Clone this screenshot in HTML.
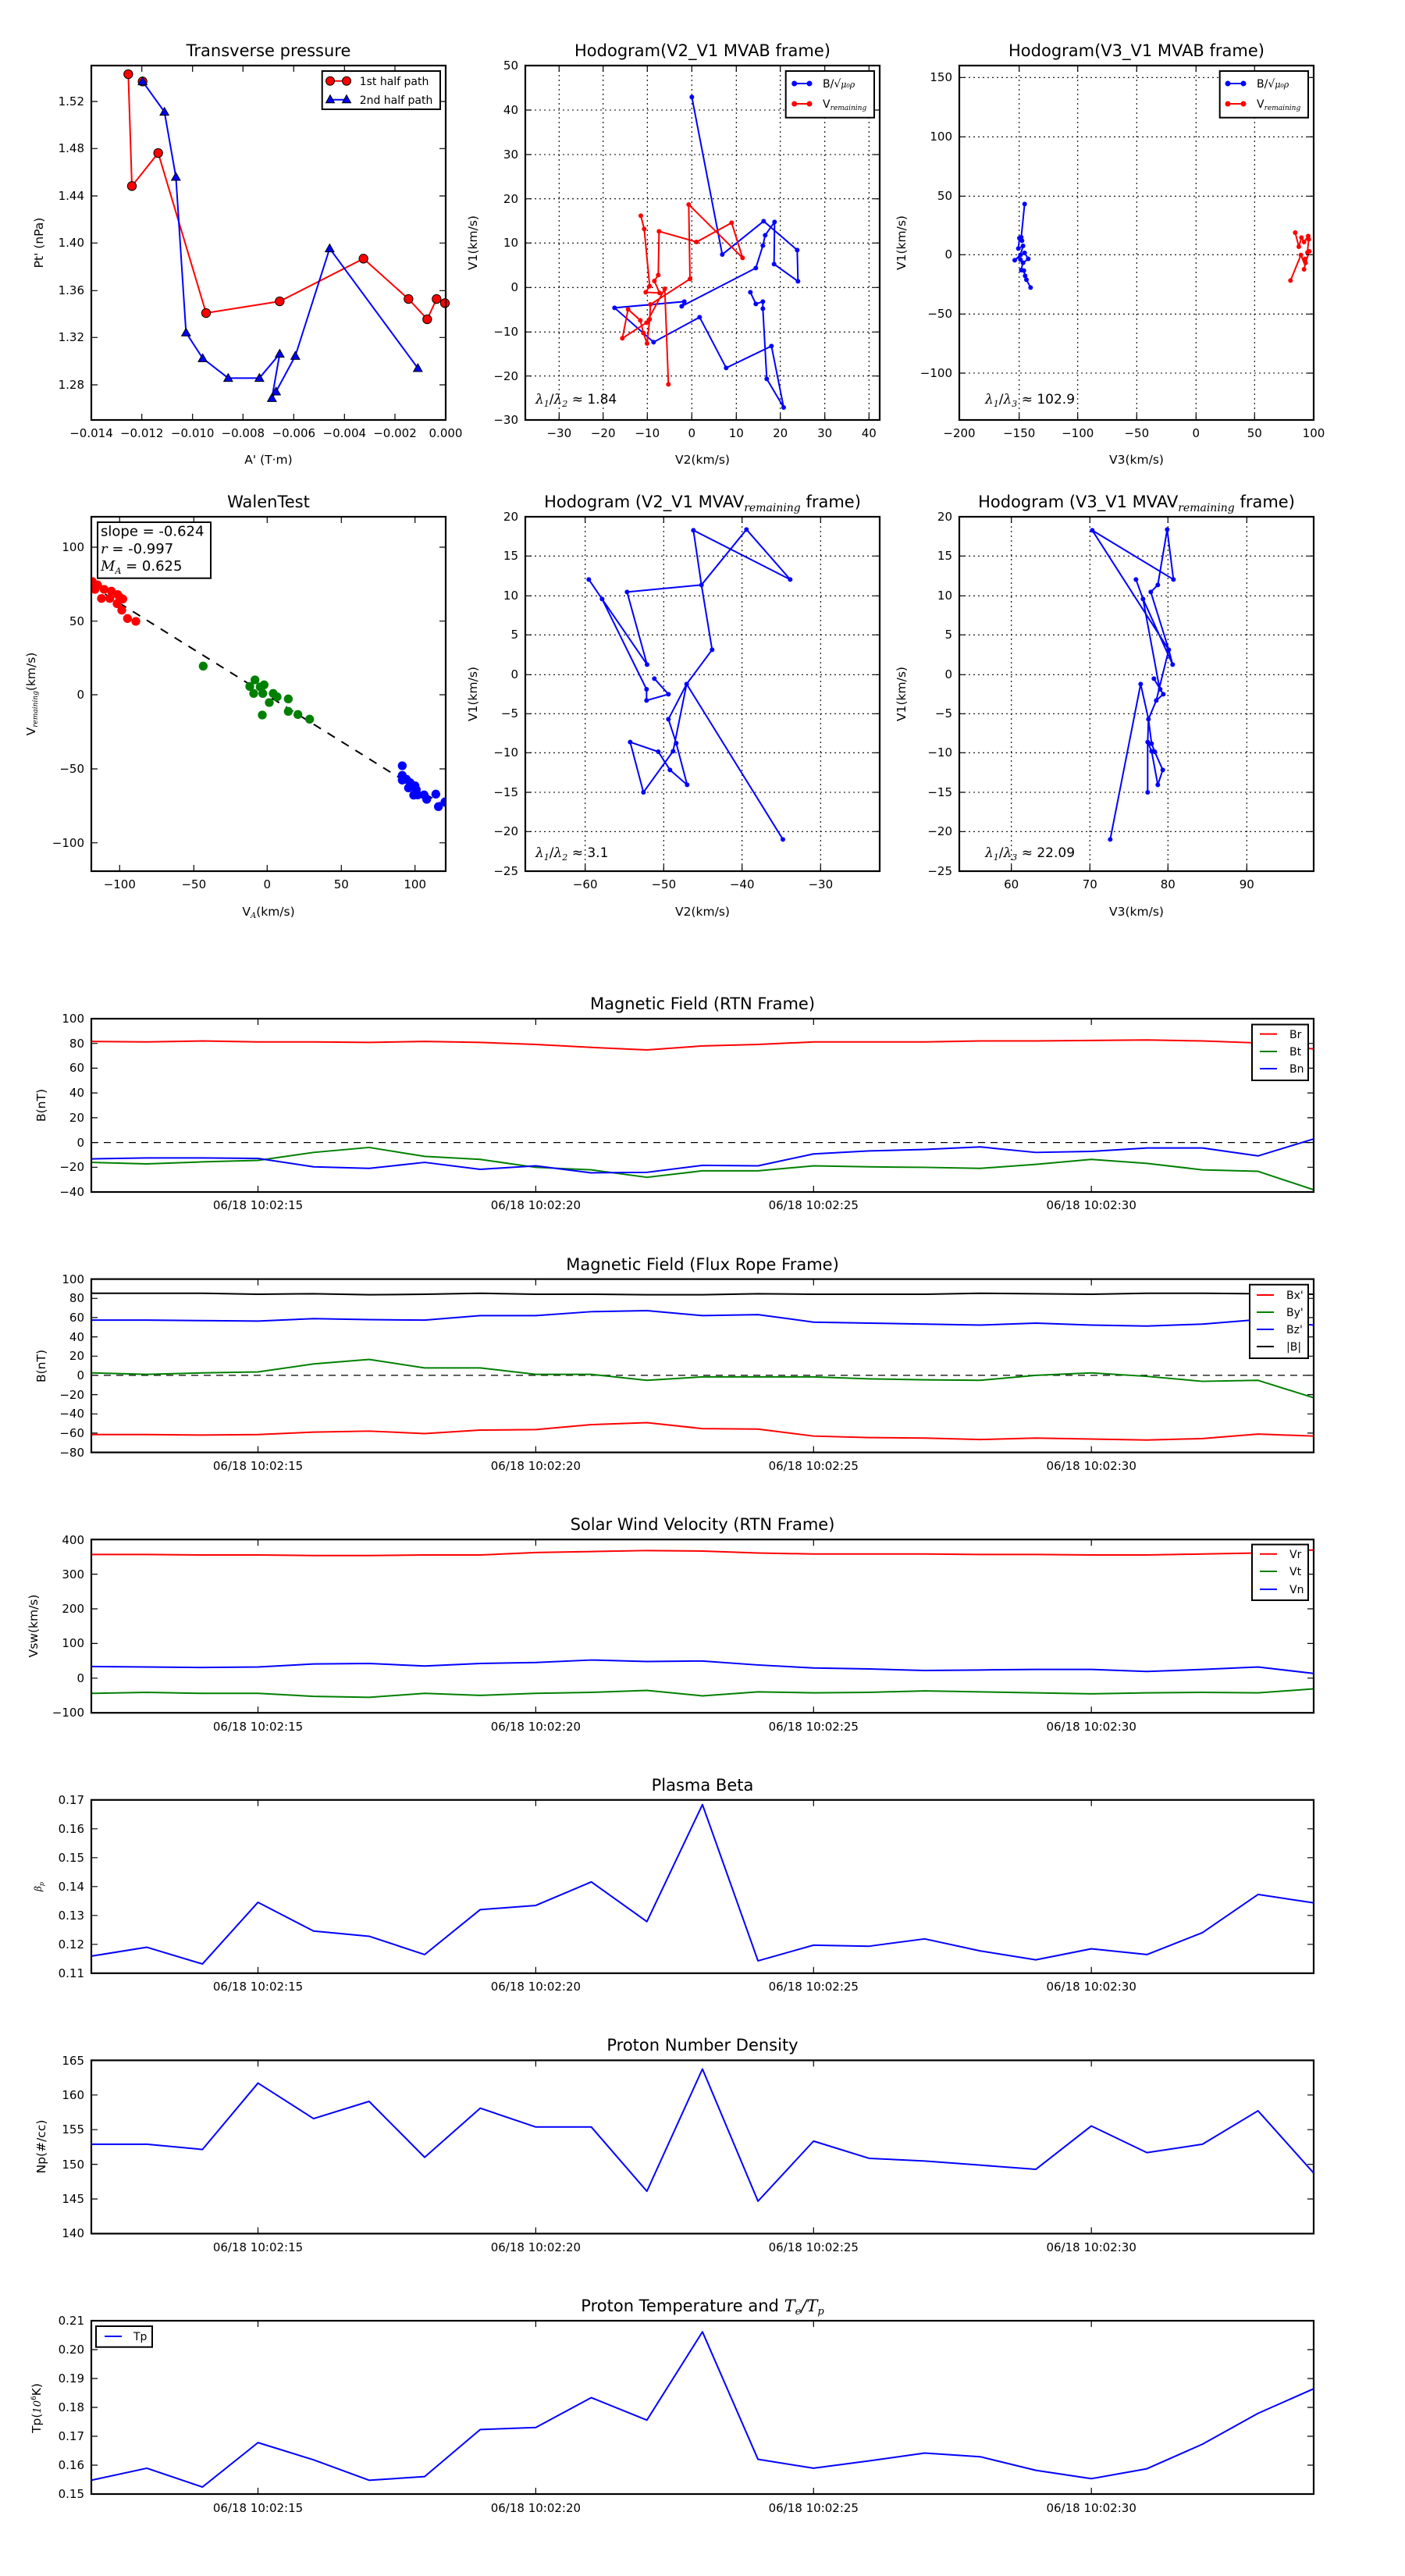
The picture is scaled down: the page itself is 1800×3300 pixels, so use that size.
<!DOCTYPE html>
<html><head><meta charset="utf-8"><style>
html,body{margin:0;padding:0;background:#fff;}
svg{display:block;}
text{font-family:"DejaVu Sans","Liberation Sans",sans-serif;fill:#000;}
.t{font-size:21px;text-anchor:middle;}
.tk{font-size:15px;}
.l{font-size:15.5px;text-anchor:middle;}
.lg{font-size:14px;}
.fr{fill:none;stroke:#000;stroke-width:2.2;}
.tick{fill:none;stroke:#000;stroke-width:1.2;}
.grid{stroke:#000;stroke-width:1.1;stroke-dasharray:2,4;}
.ts{fill:none;stroke-width:2;vector-effect:non-scaling-stroke;stroke-linejoin:round;}
.m{font-family:"DejaVu Serif","Liberation Serif",serif;font-style:italic;}
</style></head><body>
<svg width="1800" height="3300" viewBox="0 0 1800 3300" xmlns="http://www.w3.org/2000/svg">
<rect width="1800" height="3300" fill="#fff"/>

<!-- ============ Panel 1: Transverse pressure ============ -->
<text class="t" x="344" y="72">Transverse pressure</text>
<g transform="translate(100,60) scale(0.33333)">
<polyline points="193,105 207,535 308,408 492,1023 775,978 1097,814 1270,969 1342,1047 1378,969 1410,985" fill="none" stroke="#f00" stroke-width="6"/>
<polyline points="248,133 332,250 376,500 415,1098 479,1197 577,1273 697,1273 775,1180 745,1350 761,1325 835,1188 967,775 1306,1235" fill="none" stroke="#00f" stroke-width="6"/>
<g fill="#f00" stroke="#000" stroke-width="3">
<circle cx="193" cy="105" r="17"/><circle cx="207" cy="535" r="17"/><circle cx="308" cy="408" r="17"/><circle cx="492" cy="1023" r="17"/><circle cx="775" cy="978" r="17"/><circle cx="1097" cy="814" r="17"/><circle cx="1270" cy="969" r="17"/><circle cx="1342" cy="1047" r="17"/><circle cx="1378" cy="969" r="17"/><circle cx="1410" cy="985" r="17"/><circle cx="248" cy="133" r="17"/>
</g>
<g fill="#00f" stroke="#000" stroke-width="3">
<path d="M248,116 l17,30 h-34z M332,233 l17,30 h-34z M376,483 l17,30 h-34z M415,1081 l17,30 h-34z M479,1180 l17,30 h-34z M577,1256 l17,30 h-34z M697,1256 l17,30 h-34z M775,1163 l17,30 h-34z M745,1333 l17,30 h-34z M761,1308 l17,30 h-34z M835,1171 l17,30 h-34z M967,758 l17,30 h-34z M1306,1218 l17,30 h-34z"/>
</g>
</g>
<rect class="fr" x="117" y="84" width="454" height="454"/>
<path class="tick" d="M116.7,538v-8M116.7,84v8M181.7,538v-8M181.7,84v8M246.7,538v-8M246.7,84v8M311.3,538v-8M311.3,84v8M376.3,538v-8M376.3,84v8M441.3,538v-8M441.3,84v8M506,538v-8M506,84v8M117,130h8M571,130h-8M117,190.3h8M571,190.3h-8M117,251h8M571,251h-8M117,311.3h8M571,311.3h-8M117,372.3h8M571,372.3h-8M117,432.3h8M571,432.3h-8M117,493h8M571,493h-8"/>
<g class="tk" text-anchor="middle">
<text x="117" y="560">−0.014</text><text x="181.7" y="560">−0.012</text><text x="246.7" y="560">−0.010</text><text x="311.3" y="560">−0.008</text><text x="376.3" y="560">−0.006</text><text x="441.3" y="560">−0.004</text><text x="506" y="560">−0.002</text><text x="571" y="560">0.000</text>
</g>
<g class="tk" text-anchor="end">
<text x="108" y="135">1.52</text><text x="108" y="195">1.48</text><text x="108" y="256">1.44</text><text x="108" y="316">1.40</text><text x="108" y="377">1.36</text><text x="108" y="437">1.32</text><text x="108" y="498">1.28</text>
</g>
<text class="l" x="344" y="594">A' (T·m)</text>
<text class="l" transform="translate(55,311) rotate(-90)">Pt' (nPa)</text>
<rect x="412.7" y="91" width="151.3" height="49" fill="#fff" stroke="#000" stroke-width="2"/>
<line x1="423" y1="103.7" x2="444" y2="103.7" stroke="#f00" stroke-width="2"/>
<circle cx="423" cy="103.7" r="5.5" fill="#f00" stroke="#000"/><circle cx="444" cy="103.7" r="5.5" fill="#f00" stroke="#000"/>
<line x1="423" y1="127.7" x2="444" y2="127.7" stroke="#00f" stroke-width="2"/>
<path d="M423,121.7l5.5,10h-11zM444,121.7l5.5,10h-11z" fill="#00f" stroke="#000"/>
<text class="lg" x="460.7" y="109">1st half path</text>
<text class="lg" x="460.7" y="133">2nd half path</text>

<!-- ============ Panel 2: Hodogram V2_V1 MVAB ============ -->
<text class="t" x="900" y="72">Hodogram(V2_V1 MVAB frame)</text>
<g class="grid">
<path d="M716.3,84V538M772.7,84V538M829.3,84V538M886.3,84V538M943.3,84V538M999.7,84V538M1056.7,84V538M1113.3,84V538M673,141H1127M673,198H1127M673,254.7H1127M673,311.3H1127M673,368.3H1127M673,425.3H1127M673,481.7H1127"/>
</g>
<g transform="translate(625,60) scale(0.33333)">
<polyline points="1009,943 1030,988 1057,979 1057,1006 1072,1276 1137,1386 1090,1150 916,1234 814,1039 637,1135 487,1003 755,979 745,997 1030,850 1057,764 1066,724 1102,673 1100,835 1192,901 1189,781 1060,670 901,798 784,193" fill="none" stroke="#00f" stroke-width="6"/>
<g fill="#00f"><circle cx="1009" cy="943" r="9"/><circle cx="1030" cy="988" r="9"/><circle cx="1057" cy="979" r="9"/><circle cx="1057" cy="1006" r="9"/><circle cx="1072" cy="1276" r="9"/><circle cx="1137" cy="1386" r="9"/><circle cx="1090" cy="1150" r="9"/><circle cx="916" cy="1234" r="9"/><circle cx="814" cy="1039" r="9"/><circle cx="637" cy="1135" r="9"/><circle cx="487" cy="1003" r="9"/><circle cx="755" cy="979" r="9"/><circle cx="745" cy="997" r="9"/><circle cx="1030" cy="850" r="9"/><circle cx="1057" cy="764" r="9"/><circle cx="1066" cy="724" r="9"/><circle cx="1102" cy="673" r="9"/><circle cx="1100" cy="835" r="9"/><circle cx="1192" cy="901" r="9"/><circle cx="1189" cy="781" r="9"/><circle cx="1060" cy="670" r="9"/><circle cx="901" cy="798" r="9"/><circle cx="784" cy="193" r="9"/></g>
<polyline points="588,649 601,700 622,920 607,943 660,946 640,900 655,877 658,709 802,750 937,676 979,811 772,606 777,892 625,990 622,1047 612,1140 598,1100 586,1051 539,1009 517,1120 610,1060 680,930 694,1297" fill="none" stroke="#f00" stroke-width="6"/>
<g fill="#f00"><circle cx="588" cy="649" r="9"/><circle cx="601" cy="700" r="9"/><circle cx="622" cy="920" r="9"/><circle cx="607" cy="943" r="9"/><circle cx="660" cy="946" r="9"/><circle cx="640" cy="900" r="9"/><circle cx="655" cy="877" r="9"/><circle cx="658" cy="709" r="9"/><circle cx="802" cy="750" r="9"/><circle cx="937" cy="676" r="9"/><circle cx="979" cy="811" r="9"/><circle cx="772" cy="606" r="9"/><circle cx="777" cy="892" r="9"/><circle cx="625" cy="990" r="9"/><circle cx="622" cy="1047" r="9"/><circle cx="612" cy="1140" r="9"/><circle cx="598" cy="1100" r="9"/><circle cx="586" cy="1051" r="9"/><circle cx="539" cy="1009" r="9"/><circle cx="517" cy="1120" r="9"/><circle cx="610" cy="1060" r="9"/><circle cx="680" cy="930" r="9"/><circle cx="694" cy="1297" r="9"/></g>
</g>
<rect class="fr" x="673" y="84" width="454" height="454"/>
<path class="tick" d="M716.3,538v-8M716.3,84v8M772.7,538v-8M772.7,84v8M829.3,538v-8M829.3,84v8M886.3,538v-8M886.3,84v8M943.3,538v-8M943.3,84v8M999.7,538v-8M999.7,84v8M1056.7,538v-8M1056.7,84v8M1113.3,538v-8M1113.3,84v8M673,141h8M1127,141h-8M673,198h8M1127,198h-8M673,254.7h8M1127,254.7h-8M673,311.3h8M1127,311.3h-8M673,368.3h8M1127,368.3h-8M673,425.3h8M1127,425.3h-8M673,481.7h8M1127,481.7h-8"/>
<g class="tk" text-anchor="middle">
<text x="716.3" y="560">−30</text><text x="772.7" y="560">−20</text><text x="829.3" y="560">−10</text><text x="886.3" y="560">0</text><text x="943.3" y="560">10</text><text x="999.7" y="560">20</text><text x="1056.7" y="560">30</text><text x="1113.3" y="560">40</text>
</g>
<g class="tk" text-anchor="end">
<text x="664" y="89">50</text><text x="664" y="146">40</text><text x="664" y="203">30</text><text x="664" y="260">20</text><text x="664" y="316">10</text><text x="664" y="373">0</text><text x="664" y="430">−10</text><text x="664" y="487">−20</text><text x="664" y="543">−30</text>
</g>
<text class="l" x="900" y="594">V2(km/s)</text>
<text class="l" transform="translate(611,311) rotate(-90)">V1(km/s)</text>
<text x="686" y="517" style="font-size:17px"><tspan class="m">λ</tspan><tspan class="m" font-size="11" dy="4">1</tspan><tspan dy="-4">/</tspan><tspan class="m">λ</tspan><tspan class="m" font-size="11" dy="4">2</tspan><tspan dy="-4"> ≈ 1.84</tspan></text>
<rect x="1006.7" y="91" width="113.3" height="59.7" fill="#fff" stroke="#000" stroke-width="2"/>
<line x1="1017.7" y1="107" x2="1037" y2="107" stroke="#00f" stroke-width="2"/><circle cx="1017.7" cy="107" r="3.5" fill="#00f"/><circle cx="1037" cy="107" r="3.5" fill="#00f"/>
<line x1="1017.7" y1="133" x2="1037" y2="133" stroke="#f00" stroke-width="2"/><circle cx="1017.7" cy="133" r="3.5" fill="#f00"/><circle cx="1037" cy="133" r="3.5" fill="#f00"/>
<text class="lg" x="1054" y="112">B/√<tspan class="m" font-size="11">μ₀ρ</tspan></text>
<text class="lg" x="1054" y="138">V<tspan class="m" font-size="9" dy="3">remaining</tspan></text>

<!-- ============ Panel 3: Hodogram V3_V1 MVAB ============ -->
<text class="t" x="1456" y="72">Hodogram(V3_V1 MVAB frame)</text>
<g class="grid">
<path d="M1305.7,84V538M1380.7,84V538M1456.3,84V538M1532.3,84V538M1607.3,84V538M1229,99.3H1683M1229,175.3H1683M1229,251.3H1683M1229,326.3H1683M1229,402.3H1683M1229,478H1683"/>
</g>
<g transform="translate(1220,60) scale(0.33333)">
<polyline points="278,604 265,732 258,735 254,775 272,765 262,800 240,820 278,792 292,815 272,830 270,835 265,858 275,860 280,880 285,895 301,925" fill="none" stroke="#00f" stroke-width="6"/>
<g fill="#00f"><circle cx="278" cy="604" r="9"/><circle cx="265" cy="732" r="9"/><circle cx="258" cy="735" r="9"/><circle cx="254" cy="775" r="9"/><circle cx="272" cy="765" r="9"/><circle cx="262" cy="800" r="9"/><circle cx="240" cy="820" r="9"/><circle cx="278" cy="792" r="9"/><circle cx="292" cy="815" r="9"/><circle cx="272" cy="830" r="9"/><circle cx="265" cy="858" r="9"/><circle cx="275" cy="860" r="9"/><circle cx="280" cy="880" r="9"/><circle cx="285" cy="895" r="9"/><circle cx="301" cy="925" r="9"/><circle cx="268" cy="745" r="9"/><circle cx="262" cy="818" r="9"/></g>
<polyline points="1318,714 1332,768 1342,733 1352,750 1368,727 1370,740 1365,790 1372,786 1358,830 1352,855 1356,840 1340,800 1300,898" fill="none" stroke="#f00" stroke-width="6"/>
<g fill="#f00"><circle cx="1318" cy="714" r="9"/><circle cx="1332" cy="768" r="9"/><circle cx="1342" cy="733" r="9"/><circle cx="1352" cy="750" r="9"/><circle cx="1368" cy="727" r="9"/><circle cx="1370" cy="740" r="9"/><circle cx="1365" cy="790" r="9"/><circle cx="1372" cy="786" r="9"/><circle cx="1358" cy="830" r="9"/><circle cx="1352" cy="855" r="9"/><circle cx="1356" cy="815" r="9"/><circle cx="1340" cy="800" r="9"/><circle cx="1300" cy="898" r="9"/></g>
</g>
<rect class="fr" x="1229" y="84" width="454" height="454"/>
<path class="tick" d="M1305.7,538v-8M1305.7,84v8M1380.7,538v-8M1380.7,84v8M1456.3,538v-8M1456.3,84v8M1532.3,538v-8M1532.3,84v8M1607.3,538v-8M1607.3,84v8M1229,99.3h8M1683,99.3h-8M1229,175.3h8M1683,175.3h-8M1229,251.3h8M1683,251.3h-8M1229,326.3h8M1683,326.3h-8M1229,402.3h8M1683,402.3h-8M1229,478h8M1683,478h-8"/>
<g class="tk" text-anchor="middle">
<text x="1229" y="560">−200</text><text x="1305.7" y="560">−150</text><text x="1380.7" y="560">−100</text><text x="1456.3" y="560">−50</text><text x="1532.3" y="560">0</text><text x="1607.3" y="560">50</text><text x="1683" y="560">100</text>
</g>
<g class="tk" text-anchor="end">
<text x="1220" y="104">150</text><text x="1220" y="180">100</text><text x="1220" y="256">50</text><text x="1220" y="331">0</text><text x="1220" y="407">−50</text><text x="1220" y="483">−100</text>
</g>
<text class="l" x="1456" y="594">V3(km/s)</text>
<text class="l" transform="translate(1160,311) rotate(-90)">V1(km/s)</text>
<text x="1262" y="517" style="font-size:17px"><tspan class="m">λ</tspan><tspan class="m" font-size="11" dy="4">1</tspan><tspan dy="-4">/</tspan><tspan class="m">λ</tspan><tspan class="m" font-size="11" dy="4">3</tspan><tspan dy="-4"> ≈ 102.9</tspan></text>
<rect x="1562.7" y="91" width="113.3" height="59.7" fill="#fff" stroke="#000" stroke-width="2"/>
<line x1="1573" y1="107" x2="1593" y2="107" stroke="#00f" stroke-width="2"/><circle cx="1573" cy="107" r="3.5" fill="#00f"/><circle cx="1593" cy="107" r="3.5" fill="#00f"/>
<line x1="1573" y1="133" x2="1593" y2="133" stroke="#f00" stroke-width="2"/><circle cx="1573" cy="133" r="3.5" fill="#f00"/><circle cx="1593" cy="133" r="3.5" fill="#f00"/>
<text class="lg" x="1610" y="112">B/√<tspan class="m" font-size="11">μ₀ρ</tspan></text>
<text class="lg" x="1610" y="138">V<tspan class="m" font-size="9" dy="3">remaining</tspan></text>

<!-- ============ Panel 4: WalenTest ============ -->
<text class="t" x="344" y="650">WalenTest</text>
<defs><clipPath id="cw"><rect x="117" y="662" width="454" height="454"/></clipPath></defs>
<g clip-path="url(#cw)">
<line x1="116.7" y1="750" x2="571" y2="1033.3" stroke="#000" stroke-width="2" stroke-dasharray="11,10"/>
<g transform="translate(100,640) scale(0.33333)">
<g fill="#f00"><circle cx="55" cy="315" r="17"/><circle cx="75" cy="328" r="17"/><circle cx="65" cy="345" r="17"/><circle cx="100" cy="345" r="17"/><circle cx="128" cy="352" r="17"/><circle cx="90" cy="380" r="17"/><circle cx="122" cy="380" r="17"/><circle cx="152" cy="365" r="17"/><circle cx="160" cy="375" r="17"/><circle cx="172" cy="382" r="17"/><circle cx="150" cy="400" r="17"/><circle cx="168" cy="425" r="17"/><circle cx="190" cy="457" r="17"/><circle cx="222" cy="468" r="17"/><circle cx="58" cy="330" r="17"/></g>
<g fill="#008000"><circle cx="481" cy="640" r="17"/><circle cx="680" cy="693" r="17"/><circle cx="660" cy="718" r="17"/><circle cx="675" cy="745" r="17"/><circle cx="700" cy="720" r="17"/><circle cx="715" cy="712" r="17"/><circle cx="710" cy="745" r="17"/><circle cx="750" cy="745" r="17"/><circle cx="765" cy="758" r="17"/><circle cx="735" cy="780" r="17"/><circle cx="808" cy="766" r="17"/><circle cx="708" cy="828" r="17"/><circle cx="808" cy="814" r="17"/><circle cx="845" cy="826" r="17"/><circle cx="890" cy="844" r="17"/></g>
<g fill="#00f"><circle cx="1246" cy="1023" r="17"/><circle cx="1246" cy="1060" r="17"/><circle cx="1246" cy="1078" r="17"/><circle cx="1262" cy="1075" r="17"/><circle cx="1276" cy="1088" r="17"/><circle cx="1270" cy="1108" r="17"/><circle cx="1295" cy="1100" r="17"/><circle cx="1300" cy="1115" r="17"/><circle cx="1290" cy="1136" r="17"/><circle cx="1305" cy="1135" r="17"/><circle cx="1330" cy="1135" r="17"/><circle cx="1340" cy="1152" r="17"/><circle cx="1375" cy="1132" r="17"/><circle cx="1385" cy="1180" r="17"/><circle cx="1410" cy="1162" r="17"/></g>
</g>
</g>
<rect class="fr" x="117" y="662" width="454" height="454"/>
<path class="tick" d="M153.3,1116v-8M153.3,662v8M248.3,1116v-8M248.3,662v8M342.3,1116v-8M342.3,662v8M437.3,1116v-8M437.3,662v8M531.7,1116v-8M531.7,662v8M117,701h8M571,701h-8M117,795.7h8M571,795.7h-8M117,890h8M571,890h-8M117,985h8M571,985h-8M117,1079.7h8M571,1079.7h-8"/>
<g class="tk" text-anchor="middle">
<text x="153.3" y="1138">−100</text><text x="248.3" y="1138">−50</text><text x="342.3" y="1138">0</text><text x="437.3" y="1138">50</text><text x="531.7" y="1138">100</text>
</g>
<g class="tk" text-anchor="end">
<text x="108" y="706">100</text><text x="108" y="801">50</text><text x="108" y="895">0</text><text x="108" y="990">−50</text><text x="108" y="1085">−100</text>
</g>
<text class="l" x="344" y="1173">V<tspan class="m" font-size="10" dy="3">A</tspan><tspan dy="-3">(km/s)</tspan></text>
<text class="l" transform="translate(45,889) rotate(-90)">V<tspan class="m" font-size="9" dy="3">remaining</tspan><tspan dy="-3">(km/s)</tspan></text>
<rect x="125" y="669" width="145" height="71.7" fill="#fff" stroke="#000" stroke-width="2"/>
<text x="129" y="686.7" style="font-size:18px">slope = -0.624</text>
<text x="129" y="709" style="font-size:18px"><tspan class="m">r</tspan> = -0.997</text>
<text x="129" y="731" style="font-size:18px"><tspan class="m">M</tspan><tspan class="m" font-size="11" dy="4">A</tspan><tspan dy="-4"> = 0.625</tspan></text>

<!-- ============ Panel 5: Hodogram V2_V1 MVAV ============ -->
<text class="t" x="900" y="650">Hodogram (V2_V1 MVAV<tspan class="m" font-size="14" dy="5">remaining</tspan><tspan dy="-5"> frame)</tspan></text>
<g class="grid">
<path d="M749.7,662V1116M850.3,662V1116M950.7,662V1116M1051.3,662V1116M673,712.3H1127M673,763.3H1127M673,813.3H1127M673,864.3H1127M673,914.3H1127M673,964.3H1127M673,1015H1127M673,1065.3H1127"/>
</g>
<g transform="translate(655,640) scale(0.33333)">
<polyline points="550,688 604,748 520,772 520,729 349,382 298,307 349,382 522,634 445,355 731,328 700,118 1072,307 904,115 731,328 772,577 674,709 604,844 634,936 676,1096 610,1039 565,969 457,932 508,1125 622,967 674,709 1044,1306" fill="none" stroke="#00f" stroke-width="6"/>
<g fill="#00f"><circle cx="550" cy="688" r="9"/><circle cx="604" cy="748" r="9"/><circle cx="520" cy="772" r="9"/><circle cx="520" cy="729" r="9"/><circle cx="349" cy="382" r="9"/><circle cx="298" cy="307" r="9"/><circle cx="522" cy="634" r="9"/><circle cx="445" cy="355" r="9"/><circle cx="731" cy="328" r="9"/><circle cx="700" cy="118" r="9"/><circle cx="1072" cy="307" r="9"/><circle cx="904" cy="115" r="9"/><circle cx="772" cy="577" r="9"/><circle cx="674" cy="709" r="9"/><circle cx="604" cy="844" r="9"/><circle cx="634" cy="936" r="9"/><circle cx="676" cy="1096" r="9"/><circle cx="610" cy="1039" r="9"/><circle cx="565" cy="969" r="9"/><circle cx="457" cy="932" r="9"/><circle cx="508" cy="1125" r="9"/><circle cx="622" cy="967" r="9"/><circle cx="1044" cy="1306" r="9"/></g>
</g>
<rect class="fr" x="673" y="662" width="454" height="454"/>
<path class="tick" d="M749.7,1116v-8M749.7,662v8M850.3,1116v-8M850.3,662v8M950.7,1116v-8M950.7,662v8M1051.3,1116v-8M1051.3,662v8M673,712.3h8M1127,712.3h-8M673,763.3h8M1127,763.3h-8M673,813.3h8M1127,813.3h-8M673,864.3h8M1127,864.3h-8M673,914.3h8M1127,914.3h-8M673,964.3h8M1127,964.3h-8M673,1015h8M1127,1015h-8M673,1065.3h8M1127,1065.3h-8"/>
<g class="tk" text-anchor="middle">
<text x="749.7" y="1138">−60</text><text x="850.3" y="1138">−50</text><text x="950.7" y="1138">−40</text><text x="1051.3" y="1138">−30</text>
</g>
<g class="tk" text-anchor="end">
<text x="664" y="667">20</text><text x="664" y="717">15</text><text x="664" y="768">10</text><text x="664" y="818">5</text><text x="664" y="869">0</text><text x="664" y="919">−5</text><text x="664" y="969">−10</text><text x="664" y="1020">−15</text><text x="664" y="1070">−20</text><text x="664" y="1121">−25</text>
</g>
<text class="l" x="900" y="1173">V2(km/s)</text>
<text class="l" transform="translate(611,889) rotate(-90)">V1(km/s)</text>
<text x="686" y="1098" style="font-size:17px"><tspan class="m">λ</tspan><tspan class="m" font-size="11" dy="4">1</tspan><tspan dy="-4">/</tspan><tspan class="m">λ</tspan><tspan class="m" font-size="11" dy="4">2</tspan><tspan dy="-4"> ≈ 3.1</tspan></text>

<!-- ============ Panel 6: Hodogram V3_V1 MVAV ============ -->
<text class="t" x="1456" y="650">Hodogram (V3_V1 MVAV<tspan class="m" font-size="14" dy="5">remaining</tspan><tspan dy="-5"> frame)</tspan></text>
<g class="grid">
<path d="M1295.7,662V1116M1396.3,662V1116M1496.3,662V1116M1597.3,662V1116M1229,712.3H1683M1229,763.3H1683M1229,813.3H1683M1229,864.3H1683M1229,914.3H1683M1229,964.3H1683M1229,1015H1683M1229,1065.3H1683"/>
</g>
<g transform="translate(1210,640) scale(0.33333)">
<polyline points="736,307 763,382 877,634 862,577 793,355 820,328 856,115 880,307 568,118 862,577" fill="none" stroke="#00f" stroke-width="6"/>
<polyline points="763,382 822,700 829,729 841,748 814,772 862,577 814,772 784,844 796,938 808,969 839,1039 820,1096 796,967 781,932 781,1125 781,932 784,844 754,709 637,1306" fill="none" stroke="#00f" stroke-width="6"/>
<polyline points="805,688 829,729" fill="none" stroke="#00f" stroke-width="6"/>
<g fill="#00f"><circle cx="568" cy="118" r="9"/><circle cx="856" cy="115" r="9"/><circle cx="880" cy="307" r="9"/><circle cx="820" cy="328" r="9"/><circle cx="793" cy="355" r="9"/><circle cx="736" cy="307" r="9"/><circle cx="763" cy="382" r="9"/><circle cx="862" cy="577" r="9"/><circle cx="877" cy="634" r="9"/><circle cx="805" cy="688" r="9"/><circle cx="829" cy="729" r="9"/><circle cx="841" cy="748" r="9"/><circle cx="814" cy="772" r="9"/><circle cx="754" cy="709" r="9"/><circle cx="784" cy="844" r="9"/><circle cx="781" cy="932" r="9"/><circle cx="796" cy="938" r="9"/><circle cx="796" cy="967" r="9"/><circle cx="808" cy="969" r="9"/><circle cx="839" cy="1039" r="9"/><circle cx="820" cy="1096" r="9"/><circle cx="781" cy="1125" r="9"/><circle cx="637" cy="1306" r="9"/></g>
</g>
<rect class="fr" x="1229" y="662" width="454" height="454"/>
<path class="tick" d="M1295.7,1116v-8M1295.7,662v8M1396.3,1116v-8M1396.3,662v8M1496.3,1116v-8M1496.3,662v8M1597.3,1116v-8M1597.3,662v8M1229,712.3h8M1683,712.3h-8M1229,763.3h8M1683,763.3h-8M1229,813.3h8M1683,813.3h-8M1229,864.3h8M1683,864.3h-8M1229,914.3h8M1683,914.3h-8M1229,964.3h8M1683,964.3h-8M1229,1015h8M1683,1015h-8M1229,1065.3h8M1683,1065.3h-8"/>
<g class="tk" text-anchor="middle">
<text x="1295.7" y="1138">60</text><text x="1396.3" y="1138">70</text><text x="1496.3" y="1138">80</text><text x="1597.3" y="1138">90</text>
</g>
<g class="tk" text-anchor="end">
<text x="1220" y="667">20</text><text x="1220" y="717">15</text><text x="1220" y="768">10</text><text x="1220" y="818">5</text><text x="1220" y="869">0</text><text x="1220" y="919">−5</text><text x="1220" y="969">−10</text><text x="1220" y="1020">−15</text><text x="1220" y="1070">−20</text><text x="1220" y="1121">−25</text>
</g>
<text class="l" x="1456" y="1173">V3(km/s)</text>
<text class="l" transform="translate(1160,889) rotate(-90)">V1(km/s)</text>
<text x="1262" y="1098" style="font-size:17px"><tspan class="m">λ</tspan><tspan class="m" font-size="11" dy="4">1</tspan><tspan dy="-4">/</tspan><tspan class="m">λ</tspan><tspan class="m" font-size="11" dy="4">3</tspan><tspan dy="-4"> ≈ 22.09</tspan></text>

<!-- ============ Time series ============ -->
<!-- Panel TS1 -->
<text class="t" x="900" y="1293">Magnetic Field (RTN Frame)</text>
<line x1="117" y1="1463.6" x2="1683" y2="1463.6" stroke="#000" stroke-width="1.2" stroke-dasharray="9,7"/>
<g transform="translate(-0.1,1250) scale(1.148,0.6375)">
<polyline class="ts" stroke="#f00" points="102,132 164,133 226,131 288,133 350,133 412,134 474,132 536,134 598,138 660,144 722,149 784,141 846,138 908,133 970,133 1032,133 1094,131 1156,131 1218,130 1280,129 1342,131 1404,135 1466,147"/>
<polyline class="ts" stroke="#008000" points="102,375 164,378 226,374 288,371 350,355 412,345 474,363 536,369 598,385 660,390 722,405 784,392 846,392 908,382 970,384 1032,385 1094,387 1156,379 1218,369 1280,377 1342,390 1404,393 1466,430"/>
<polyline class="ts" stroke="#00f" points="102,368 164,366 226,366 288,367 350,384 412,387 474,375 536,389 598,382 660,396 722,395 784,381 846,382 908,358 970,352 1032,349 1094,344 1156,355 1218,353 1280,346 1342,346 1404,362 1466,328"/>
</g>
<rect class="fr" x="117" y="1305" width="1566" height="222"/>
<path class="tick" d="M330.5,1527v-8M330.5,1305v8M686.4,1527v-8M686.4,1305v8M1042.3,1527v-8M1042.3,1305v8M1398.2,1527v-8M1398.2,1305v8M117,1336.7h8M1683,1336.7h-8M117,1368.4h8M1683,1368.4h-8M117,1400.1h8M1683,1400.1h-8M117,1431.9h8M1683,1431.9h-8M117,1463.6h8M1683,1463.6h-8M117,1495.3h8M1683,1495.3h-8"/>
<g class="tk" text-anchor="end"><text x="108" y="1310">100</text><text x="108" y="1342">80</text><text x="108" y="1373">60</text><text x="108" y="1405">40</text><text x="108" y="1437">20</text><text x="108" y="1469">0</text><text x="108" y="1500">−20</text><text x="108" y="1532">−40</text></g>
<g class="tk" text-anchor="middle"><text x="330.5" y="1549">06/18 10:02:15</text><text x="686.4" y="1549">06/18 10:02:20</text><text x="1042.3" y="1549">06/18 10:02:25</text><text x="1398.2" y="1549">06/18 10:02:30</text></g>
<text class="l" transform="translate(58,1416) rotate(-90)">B(nT)</text>
<rect x="1604" y="1312.5" width="72" height="71.5" fill="#fff" stroke="#000" stroke-width="2"/>
<line x1="1614" y1="1324.6" x2="1636" y2="1324.6" stroke="#f00" stroke-width="2"/><text class="lg" x="1652" y="1330">Br</text>
<line x1="1614" y1="1347" x2="1636" y2="1347" stroke="#008000" stroke-width="2"/><text class="lg" x="1652" y="1352">Bt</text>
<line x1="1614" y1="1369" x2="1636" y2="1369" stroke="#00f" stroke-width="2"/><text class="lg" x="1652" y="1374">Bn</text>

<!-- Panel TS2 -->
<text class="t" x="900" y="1627">Magnetic Field (Flux Rope Frame)</text>
<line x1="117" y1="1761.9" x2="1683" y2="1761.9" stroke="#000" stroke-width="1.2" stroke-dasharray="9,7"/>
<g transform="translate(-0.1,1250) scale(1.148,0.6375)">
<polyline class="ts" stroke="#000" points="102,638 164,638 226,638 288,640 350,639 412,641 474,640 536,638 598,640 660,640 722,641 784,641 846,639 908,640 970,640 1032,640 1094,638 1156,639 1218,640 1280,638 1342,638 1404,639 1466,640"/>
<polyline class="ts" stroke="#00f" points="102,692 164,692 226,693 288,694 350,689 412,691 474,692 536,683 598,683 660,675 722,673 784,683 846,681 908,696 970,698 1032,700 1094,702 1156,698 1218,702 1280,704 1342,700 1404,691 1466,702"/>
<polyline class="ts" stroke="#008000" points="102,798 164,801 226,798 288,796 350,780 412,771 474,788 536,788 598,801 660,801 722,813 784,806 846,806 908,806 970,810 1032,812 1094,813 1156,803 1218,798 1280,805 1342,815 1404,813 1466,848"/>
<polyline class="ts" stroke="#f00" points="102,922 164,922 226,923 288,922 350,917 412,915 474,920 536,913 598,912 660,902 722,898 784,910 846,911 908,925 970,928 1032,929 1094,932 1156,929 1218,931 1280,933 1342,930 1404,921 1466,925"/>
</g>
<rect class="fr" x="117" y="1638.6" width="1566" height="222"/>
<path class="tick" d="M330.5,1860.6v-8M330.5,1638.6v8M686.4,1860.6v-8M686.4,1638.6v8M1042.3,1860.6v-8M1042.3,1638.6v8M1398.2,1860.6v-8M1398.2,1638.6v8M117,1663.3h8M1683,1663.3h-8M117,1687.9h8M1683,1687.9h-8M117,1712.6h8M1683,1712.6h-8M117,1737.3h8M1683,1737.3h-8M117,1761.9h8M1683,1761.9h-8M117,1786.6h8M1683,1786.6h-8M117,1811.3h8M1683,1811.3h-8M117,1835.9h8M1683,1835.9h-8"/>
<g class="tk" text-anchor="end"><text x="108" y="1644">100</text><text x="108" y="1668">80</text><text x="108" y="1693">60</text><text x="108" y="1718">40</text><text x="108" y="1742">20</text><text x="108" y="1767">0</text><text x="108" y="1792">−20</text><text x="108" y="1816">−40</text><text x="108" y="1841">−60</text><text x="108" y="1866">−80</text></g>
<g class="tk" text-anchor="middle"><text x="330.5" y="1883">06/18 10:02:15</text><text x="686.4" y="1883">06/18 10:02:20</text><text x="1042.3" y="1883">06/18 10:02:25</text><text x="1398.2" y="1883">06/18 10:02:30</text></g>
<text class="l" transform="translate(58,1750) rotate(-90)">B(nT)</text>
<rect x="1601" y="1645.7" width="75" height="94.3" fill="#fff" stroke="#000" stroke-width="2"/>
<line x1="1610" y1="1659" x2="1632" y2="1659" stroke="#f00" stroke-width="2"/><text class="lg" x="1648" y="1664">Bx'</text>
<line x1="1610" y1="1681" x2="1632" y2="1681" stroke="#008000" stroke-width="2"/><text class="lg" x="1648" y="1686">By'</text>
<line x1="1610" y1="1703" x2="1632" y2="1703" stroke="#00f" stroke-width="2"/><text class="lg" x="1648" y="1708">Bz'</text>
<line x1="1610" y1="1725" x2="1632" y2="1725" stroke="#000" stroke-width="2"/><text class="lg" x="1648" y="1730">|B|</text>

<!-- Panel TS3 -->
<text class="t" x="900" y="1960">Solar Wind Velocity (RTN Frame)</text>
<g transform="translate(-0.1,1250) scale(1.148,0.6375)">
<polyline class="ts" stroke="#f00" points="102,1163 164,1163 226,1164 288,1164 350,1165 412,1165 474,1164 536,1164 598,1159 660,1157 722,1155 784,1156 846,1160 908,1162 970,1162 1032,1162 1094,1163 1156,1163 1218,1164 1280,1164 1342,1162 1404,1160 1466,1154"/>
<polyline class="ts" stroke="#00f" points="102,1388 164,1389 226,1390 288,1389 350,1383 412,1382 474,1387 536,1382 598,1380 660,1375 722,1378 784,1377 846,1385 908,1391 970,1393 1032,1396 1094,1395 1156,1394 1218,1394 1280,1398 1342,1394 1404,1389 1466,1402"/>
<polyline class="ts" stroke="#008000" points="102,1442 164,1440 226,1442 288,1442 350,1448 412,1450 474,1442 536,1446 598,1442 660,1440 722,1436 784,1447 846,1439 908,1441 970,1440 1032,1437 1094,1439 1156,1441 1218,1443 1280,1441 1342,1440 1404,1441 1466,1433"/>
</g>
<rect class="fr" x="117" y="1972.2" width="1566" height="222"/>
<path class="tick" d="M330.5,2194.2v-8M330.5,1972.2v8M686.4,2194.2v-8M686.4,1972.2v8M1042.3,2194.2v-8M1042.3,1972.2v8M1398.2,2194.2v-8M1398.2,1972.2v8M117,2016.6h8M1683,2016.6h-8M117,2061h8M1683,2061h-8M117,2105.4h8M1683,2105.4h-8M117,2149.8h8M1683,2149.8h-8"/>
<g class="tk" text-anchor="end"><text x="108" y="1978">400</text><text x="108" y="2022">300</text><text x="108" y="2066">200</text><text x="108" y="2110">100</text><text x="108" y="2155">0</text><text x="108" y="2199">−100</text></g>
<g class="tk" text-anchor="middle"><text x="330.5" y="2217">06/18 10:02:15</text><text x="686.4" y="2217">06/18 10:02:20</text><text x="1042.3" y="2217">06/18 10:02:25</text><text x="1398.2" y="2217">06/18 10:02:30</text></g>
<text class="l" transform="translate(48,2083) rotate(-90)">Vsw(km/s)</text>
<rect x="1604" y="1978.6" width="72" height="71.4" fill="#fff" stroke="#000" stroke-width="2"/>
<line x1="1614" y1="1990.8" x2="1636" y2="1990.8" stroke="#f00" stroke-width="2"/><text class="lg" x="1652" y="1996">Vr</text>
<line x1="1614" y1="2013" x2="1636" y2="2013" stroke="#008000" stroke-width="2"/><text class="lg" x="1652" y="2018">Vt</text>
<line x1="1614" y1="2036" x2="1636" y2="2036" stroke="#00f" stroke-width="2"/><text class="lg" x="1652" y="2041">Vn</text>

<!-- Panel TS4: Plasma Beta -->
<text class="t" x="900" y="2294">Plasma Beta</text>
<g transform="translate(-0.1,2250.2) scale(1.148,0.6694)">
<polyline class="ts" stroke="#00f" points="102,382 164,365 226,397 288,279 350,334 412,344 474,379 536,293 598,285 660,240 722,316 784,92 846,391 908,361 970,363 1032,349 1094,372 1156,389 1218,368 1280,379 1342,337 1404,264 1466,280"/>
</g>
<rect class="fr" x="117" y="2305.8" width="1566" height="222"/>
<path class="tick" d="M330.5,2527.8v-8M330.5,2305.8v8M686.4,2527.8v-8M686.4,2305.8v8M1042.3,2527.8v-8M1042.3,2305.8v8M1398.2,2527.8v-8M1398.2,2305.8v8M117,2342.8h8M1683,2342.8h-8M117,2379.8h8M1683,2379.8h-8M117,2416.8h8M1683,2416.8h-8M117,2453.8h8M1683,2453.8h-8M117,2490.8h8M1683,2490.8h-8"/>
<g class="tk" text-anchor="end"><text x="108" y="2311">0.17</text><text x="108" y="2348">0.16</text><text x="108" y="2385">0.15</text><text x="108" y="2422">0.14</text><text x="108" y="2459">0.13</text><text x="108" y="2496">0.12</text><text x="108" y="2533">0.11</text></g>
<g class="tk" text-anchor="middle"><text x="330.5" y="2550">06/18 10:02:15</text><text x="686.4" y="2550">06/18 10:02:20</text><text x="1042.3" y="2550">06/18 10:02:25</text><text x="1398.2" y="2550">06/18 10:02:30</text></g>
<text transform="translate(53,2417) rotate(-90)" text-anchor="middle" style="font-size:12px"><tspan class="m">β</tspan><tspan class="m" font-size="8" dy="3">p</tspan></text>

<!-- Panel TS5: Density -->
<text class="t" x="900" y="2627">Proton Number Density</text>
<g transform="translate(-0.1,2250.2) scale(1.148,0.6694)">
<polyline class="ts" stroke="#00f" points="102,742 164,742 226,752 288,625 350,693 412,660 474,767 536,673 598,709 660,709 722,832 784,598 846,851 908,736 970,769 1032,774 1094,782 1156,790 1218,707 1280,758 1342,742 1404,678 1466,797"/>
</g>
<rect class="fr" x="117" y="2639.4" width="1566" height="222"/>
<path class="tick" d="M330.5,2861.4v-8M330.5,2639.4v8M686.4,2861.4v-8M686.4,2639.4v8M1042.3,2861.4v-8M1042.3,2639.4v8M1398.2,2861.4v-8M1398.2,2639.4v8M117,2683.8h8M1683,2683.8h-8M117,2728.2h8M1683,2728.2h-8M117,2772.6h8M1683,2772.6h-8M117,2817h8M1683,2817h-8"/>
<g class="tk" text-anchor="end"><text x="108" y="2645">165</text><text x="108" y="2689">160</text><text x="108" y="2733">155</text><text x="108" y="2778">150</text><text x="108" y="2822">145</text><text x="108" y="2866">140</text></g>
<g class="tk" text-anchor="middle"><text x="330.5" y="2884">06/18 10:02:15</text><text x="686.4" y="2884">06/18 10:02:20</text><text x="1042.3" y="2884">06/18 10:02:25</text><text x="1398.2" y="2884">06/18 10:02:30</text></g>
<text class="l" transform="translate(58,2750) rotate(-90)">Np(#/cc)</text>

<!-- Panel TS6: Temperature -->
<text class="t" x="900" y="2961">Proton Temperature and <tspan class="m">T</tspan><tspan class="m" font-size="13" dy="4">e</tspan><tspan dy="-4" class="m">/T</tspan><tspan class="m" font-size="13" dy="4">p</tspan></text>
<g transform="translate(-0.1,2250.2) scale(1.148,0.6694)">
<polyline class="ts" stroke="#00f" points="102,1385 164,1362 226,1398 288,1313 350,1346 412,1385 474,1378 536,1288 598,1284 660,1227 722,1270 784,1101 846,1345 908,1362 970,1348 1032,1333 1094,1340 1156,1366 1218,1382 1280,1363 1342,1316 1404,1257 1466,1210"/>
</g>
<rect class="fr" x="117" y="2973" width="1566" height="222"/>
<path class="tick" d="M330.5,3195v-8M330.5,2973v8M686.4,3195v-8M686.4,2973v8M1042.3,3195v-8M1042.3,2973v8M1398.2,3195v-8M1398.2,2973v8M117,3010h8M1683,3010h-8M117,3047h8M1683,3047h-8M117,3084h8M1683,3084h-8M117,3121h8M1683,3121h-8M117,3158h8M1683,3158h-8"/>
<g class="tk" text-anchor="end"><text x="108" y="2978">0.21</text><text x="108" y="3015">0.20</text><text x="108" y="3052">0.19</text><text x="108" y="3089">0.18</text><text x="108" y="3126">0.17</text><text x="108" y="3163">0.16</text><text x="108" y="3200">0.15</text></g>
<g class="tk" text-anchor="middle"><text x="330.5" y="3218">06/18 10:02:15</text><text x="686.4" y="3218">06/18 10:02:20</text><text x="1042.3" y="3218">06/18 10:02:25</text><text x="1398.2" y="3218">06/18 10:02:30</text></g>
<text class="l" transform="translate(52,3085) rotate(-90)">Tp(<tspan class="m" font-size="13">10</tspan><tspan font-size="9" dy="-6">6</tspan><tspan dy="6">K)</tspan></text>
<rect x="123" y="2980" width="72" height="26.7" fill="#fff" stroke="#000" stroke-width="2"/>
<line x1="134" y1="2993" x2="156" y2="2993" stroke="#00f" stroke-width="2"/><text class="lg" x="171" y="2998">Tp</text>
</svg>
</body></html>
